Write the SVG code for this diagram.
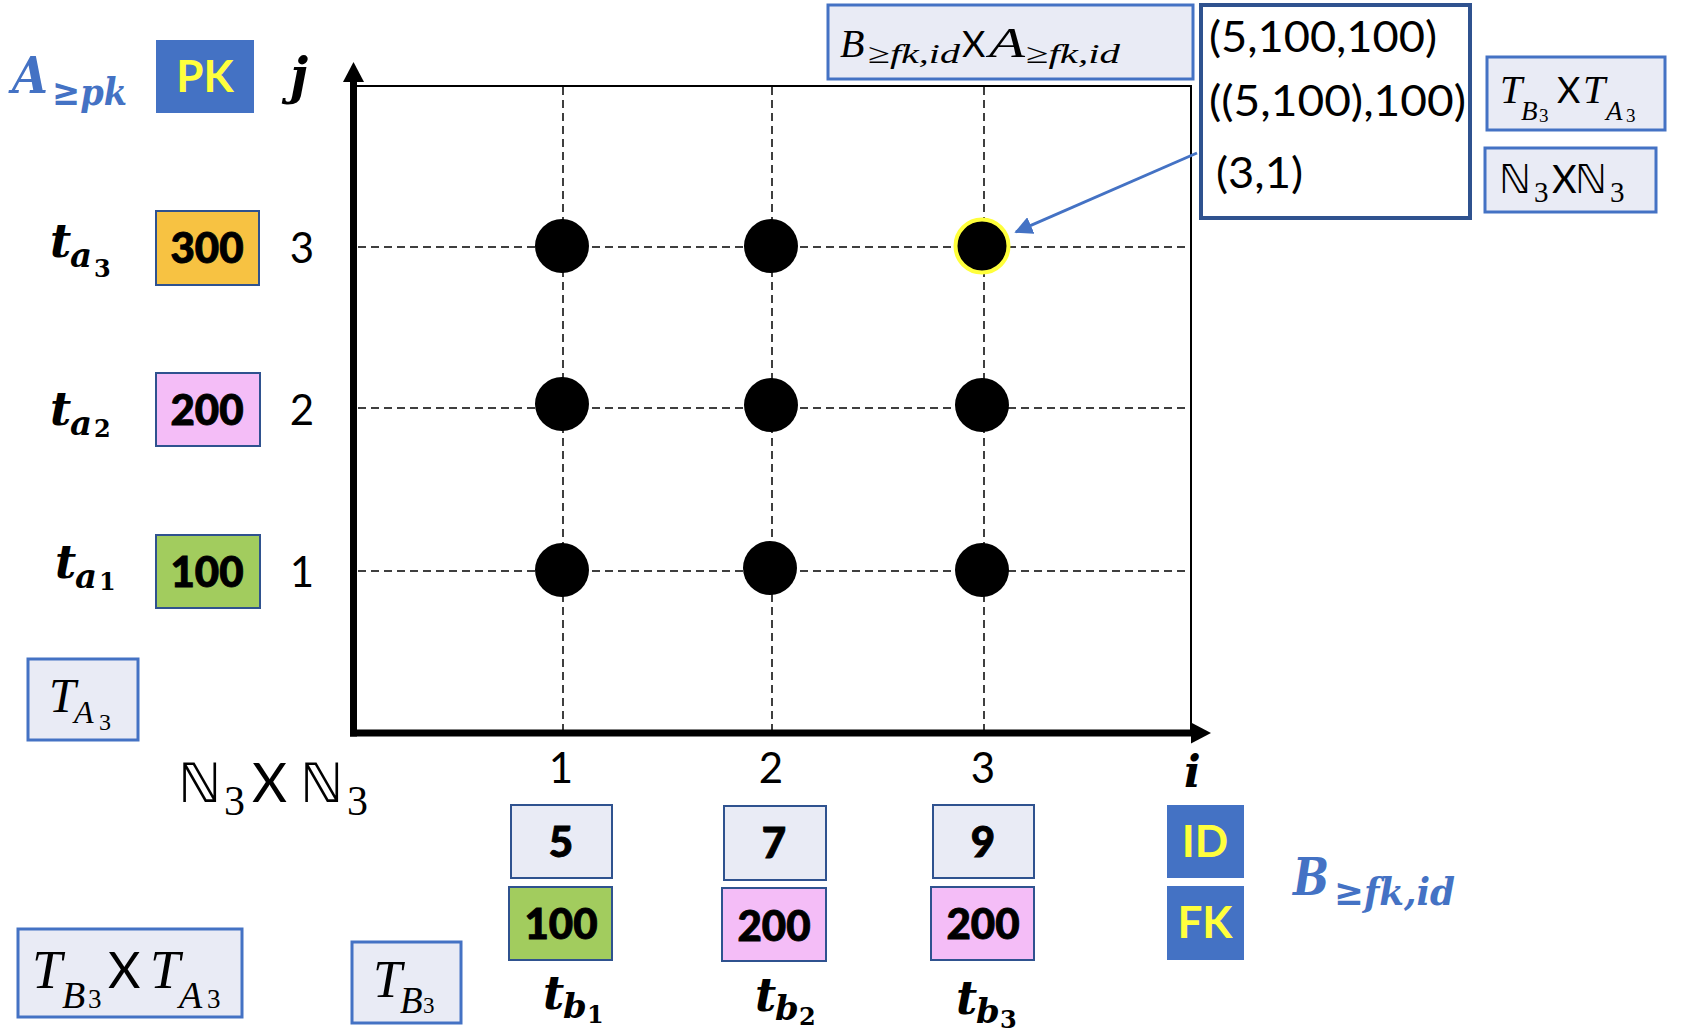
<svg xmlns="http://www.w3.org/2000/svg" width="1696" height="1034" viewBox="0 0 1696 1034">
<defs>
<style>
.lbox{fill:#E9EBF5;stroke:#4472C4;stroke-width:3}
.vbox{stroke:#2F528F;stroke-width:2}
.gray{fill:#E9EBF5}
.orange{fill:#F7C242}
.pink{fill:#F4BDF7}
.green{fill:#A2CC5E}
.kbox{fill:#4472C4}
.num{font-family:Lato,'Liberation Sans',sans-serif;font-weight:900;font-size:42px;text-anchor:middle;fill:#000;stroke:#000;stroke-width:0.9}
.key{font-family:Lato,'Liberation Sans',sans-serif;font-weight:bold;font-size:44px;text-anchor:middle;fill:#FFFF3C}
.ax{font-family:Lato,'Liberation Sans',sans-serif;font-size:42px;text-anchor:middle;fill:#000}
.tup{font-family:Lato,'Liberation Sans',sans-serif;font-size:43px;fill:#000}
.bi{font-family:'DejaVu Serif',serif;font-weight:bold;font-style:italic;fill:#000}
.blue{fill:#4472C4}
.it{font-family:'Liberation Serif',serif;font-style:italic;fill:#000}
.up{font-family:'Liberation Serif',serif;font-style:normal}
.bup{font-family:'DejaVu Serif',serif;font-weight:bold;font-style:normal}
.sx{font-family:Lato,'Liberation Sans',sans-serif;font-style:normal}
.nn{font-family:'DejaVu Sans',sans-serif;font-style:normal}
.dash{stroke:#000;stroke-width:1.5;stroke-dasharray:8 5;fill:none}
.dot{fill:#000}
</style>
<marker id="bluehead" viewBox="0 0 10 10" refX="9" refY="5" markerWidth="6" markerHeight="6" markerUnits="strokeWidth" orient="auto">
<path d="M0,0 L10,5 L0,10 z" fill="#4472C4"/>
</marker>
</defs>
<rect width="1696" height="1034" fill="#fff"/>

<g id="grid">
<rect x="354" y="86" width="837" height="647" fill="none" stroke="#000" stroke-width="2"/>
<line class="dash" x1="563" y1="87" x2="563" y2="730"/>
<line class="dash" x1="772" y1="87" x2="772" y2="730"/>
<line class="dash" x1="984" y1="87" x2="984" y2="730"/>
<line class="dash" x1="358" y1="247" x2="1190" y2="247"/>
<line class="dash" x1="358" y1="408" x2="1190" y2="408"/>
<line class="dash" x1="358" y1="571" x2="1190" y2="571"/>
</g>

<g id="connectors">
<line x1="353.5" y1="80" x2="353.5" y2="736.5" stroke="#000" stroke-width="7"/>
<polygon points="353.5,62 343,82 364,82" fill="#000"/>
<line x1="350" y1="733" x2="1194" y2="733" stroke="#000" stroke-width="7"/>
<polygon points="1211,733 1191,722.5 1191,743.5" fill="#000"/>
<line x1="1197" y1="153" x2="1016" y2="232" stroke="#4472C4" stroke-width="3" marker-end="url(#bluehead)"/>
</g>

<g id="points">
<circle class="dot" cx="562" cy="246" r="27"/>
<circle class="dot" cx="771" cy="246" r="27"/>
<circle class="dot" cx="982" cy="246" r="26.5" stroke="#FFFF3C" stroke-width="4"/>
<circle class="dot" cx="562" cy="404" r="27"/>
<circle class="dot" cx="771" cy="405" r="27"/>
<circle class="dot" cx="982" cy="405" r="27"/>
<circle class="dot" cx="562" cy="570" r="27"/>
<circle class="dot" cx="770" cy="568" r="27"/>
<circle class="dot" cx="982" cy="570" r="27"/>
</g>

<g id="axis-labels">
<text class="bi" x="290" y="93" font-size="50">j</text>
<text class="bi" x="1184" y="787" font-size="44">i</text>
<text class="ax" x="302" y="263">3</text>
<text class="ax" x="302" y="425">2</text>
<text class="ax" x="302" y="587">1</text>
<text class="ax" x="561" y="783">1</text>
<text class="ax" x="771" y="783">2</text>
<text class="ax" x="983" y="783">3</text>
</g>

<g id="label-A">
<text class="bi blue"><tspan x="12" y="93" font-size="50" textLength="36" lengthAdjust="spacingAndGlyphs">A</tspan><tspan x="52" y="105" font-size="38" textLength="75" lengthAdjust="spacingAndGlyphs">≥pk</tspan></text>
</g>

<g id="pk">
<rect class="kbox" x="156" y="40" width="98" height="73"/>
<text class="key" x="205" y="92">PK</text>
</g>

<g id="ta3">
<text class="bi"><tspan x="50" y="257" font-size="46">t</tspan><tspan x="70" y="267" font-size="34">a</tspan><tspan class="bup" x="94" y="277" font-size="24">3</tspan></text>
</g>
<g id="ta2">
<text class="bi"><tspan x="50" y="425" font-size="46">t</tspan><tspan x="70" y="435" font-size="34">a</tspan><tspan class="bup" x="94" y="437" font-size="24">2</tspan></text>
</g>
<g id="ta1">
<text class="bi"><tspan x="55" y="578" font-size="46">t</tspan><tspan x="75" y="588" font-size="34">a</tspan><tspan class="bup" x="99" y="590" font-size="24">1</tspan></text>
</g>

<g id="a300">
<rect class="vbox orange" x="156" y="211" width="103" height="74"/>
<text class="num" x="207" y="263">300</text>
</g>
<g id="a200">
<rect class="vbox pink" x="156" y="373" width="104" height="73"/>
<text class="num" x="207" y="425">200</text>
</g>
<g id="a100">
<rect class="vbox green" x="156" y="535" width="104" height="73"/>
<text class="num" x="207" y="587">100</text>
</g>

<g id="TA3">
<rect class="lbox" x="28" y="659" width="110" height="81"/>
<text class="it"><tspan x="49" y="712" font-size="48">T</tspan><tspan x="74" y="723" font-size="32">A</tspan><tspan class="up" x="99" y="730" font-size="24">3</tspan></text>
</g>

<g id="N3xN3-big">
<text fill="#000"><tspan class="nn" x="178" y="802" font-size="54">ℕ</tspan><tspan class="up" x="224" y="815" font-size="42">3</tspan><tspan class="sx" x="252" y="802" font-size="54">X</tspan><tspan class="nn" x="300" y="802" font-size="54">ℕ</tspan><tspan class="up" x="347" y="815" font-size="42">3</tspan></text>
</g>

<g id="TB3xTA3-left">
<rect class="lbox" x="18" y="929" width="224" height="88"/>
<text class="it"><tspan x="32" y="988" font-size="54">T</tspan><tspan x="62" y="1008" font-size="38">B</tspan><tspan class="up" x="88" y="1008" font-size="27">3</tspan><tspan class="sx" x="108" y="988" font-size="50">X</tspan><tspan x="150" y="988" font-size="54">T</tspan><tspan x="179" y="1008" font-size="38">A</tspan><tspan class="up" x="207" y="1008" font-size="27">3</tspan></text>
</g>

<g id="TB3">
<rect class="lbox" x="352" y="942" width="109" height="81"/>
<text class="it"><tspan x="373" y="997" font-size="52">T</tspan><tspan x="400" y="1013" font-size="37">B</tspan><tspan class="up" x="423" y="1013" font-size="23">3</tspan></text>
</g>

<g id="b1">
<rect class="vbox gray" x="511" y="805" width="101" height="73"/>
<text class="num" x="561" y="857">5</text>
<rect class="vbox green" x="509" y="887" width="103" height="73"/>
<text class="num" x="561" y="939">100</text>
<text class="bi"><tspan x="543" y="1009" font-size="46">t</tspan><tspan x="563" y="1018" font-size="34">b</tspan><tspan class="bup" x="587" y="1023" font-size="24">1</tspan></text>
</g>
<g id="b2">
<rect class="vbox gray" x="724" y="806" width="102" height="74"/>
<text class="num" x="774" y="858">7</text>
<rect class="vbox pink" x="722" y="888" width="104" height="73"/>
<text class="num" x="774" y="941">200</text>
<text class="bi"><tspan x="755" y="1011" font-size="46">t</tspan><tspan x="775" y="1020" font-size="34">b</tspan><tspan class="bup" x="799" y="1025" font-size="24">2</tspan></text>
</g>
<g id="b3">
<rect class="vbox gray" x="933" y="805" width="101" height="73"/>
<text class="num" x="983" y="857">9</text>
<rect class="vbox pink" x="931" y="887" width="103" height="73"/>
<text class="num" x="983" y="939">200</text>
<text class="bi"><tspan x="956" y="1014" font-size="46">t</tspan><tspan x="976" y="1023" font-size="34">b</tspan><tspan class="bup" x="1000" y="1028" font-size="24">3</tspan></text>
</g>

<g id="id-fk">
<rect class="kbox" x="1167" y="805" width="77" height="73"/>
<text class="key" x="1205" y="857">ID</text>
<rect class="kbox" x="1167" y="886" width="77" height="74"/>
<text class="key" x="1205" y="938">FK</text>
</g>

<g id="label-B">
<text class="bi blue"><tspan x="1293" y="895" font-size="52" textLength="36" lengthAdjust="spacingAndGlyphs">B</tspan><tspan x="1334" y="905" font-size="38" textLength="121" lengthAdjust="spacingAndGlyphs">≥fk,id</tspan></text>
</g>

<g id="BxA">
<rect class="lbox" x="828" y="5" width="365" height="74"/>
<text class="it"><tspan x="840" y="57" font-size="40">B</tspan><tspan x="868" y="63" font-size="28" textLength="92" lengthAdjust="spacingAndGlyphs">≥fk,id</tspan><tspan class="sx" x="962" y="57" font-size="36">X</tspan><tspan x="989" y="57" font-size="42" textLength="36" lengthAdjust="spacingAndGlyphs">A</tspan><tspan x="1026" y="63" font-size="28" textLength="94" lengthAdjust="spacingAndGlyphs">≥fk,id</tspan></text>
</g>

<g id="tuples">
<rect x="1201" y="5" width="269" height="213" fill="#fff" stroke="#2F528F" stroke-width="4"/>
<text class="tup" x="1209" y="52" textLength="228" lengthAdjust="spacingAndGlyphs">(5,100,100)</text>
<text class="tup" x="1209" y="116" textLength="257" lengthAdjust="spacingAndGlyphs">((5,100),100)</text>
<text class="tup" x="1216" y="188" textLength="87" lengthAdjust="spacingAndGlyphs">(3,1)</text>
</g>

<g id="TB3xTA3-right">
<rect class="lbox" x="1487" y="57" width="178" height="73"/>
<text class="it"><tspan x="1500" y="103" font-size="40">T</tspan><tspan x="1521" y="120" font-size="27">B</tspan><tspan class="up" x="1539" y="122" font-size="19">3</tspan><tspan class="sx" x="1557" y="103" font-size="36">X</tspan><tspan x="1583" y="103" font-size="40">T</tspan><tspan x="1606" y="120" font-size="27">A</tspan><tspan class="up" x="1626" y="122" font-size="19">3</tspan></text>
</g>

<g id="N3xN3-right">
<rect class="lbox" x="1485" y="148" width="171" height="64"/>
<text fill="#000"><tspan class="nn" x="1499" y="193" font-size="40">ℕ</tspan><tspan class="up" x="1534" y="202" font-size="29">3</tspan><tspan class="sx" x="1552" y="193" font-size="38">X</tspan><tspan class="nn" x="1575" y="193" font-size="40">ℕ</tspan><tspan class="up" x="1610" y="202" font-size="29">3</tspan></text>
</g>
</svg>
